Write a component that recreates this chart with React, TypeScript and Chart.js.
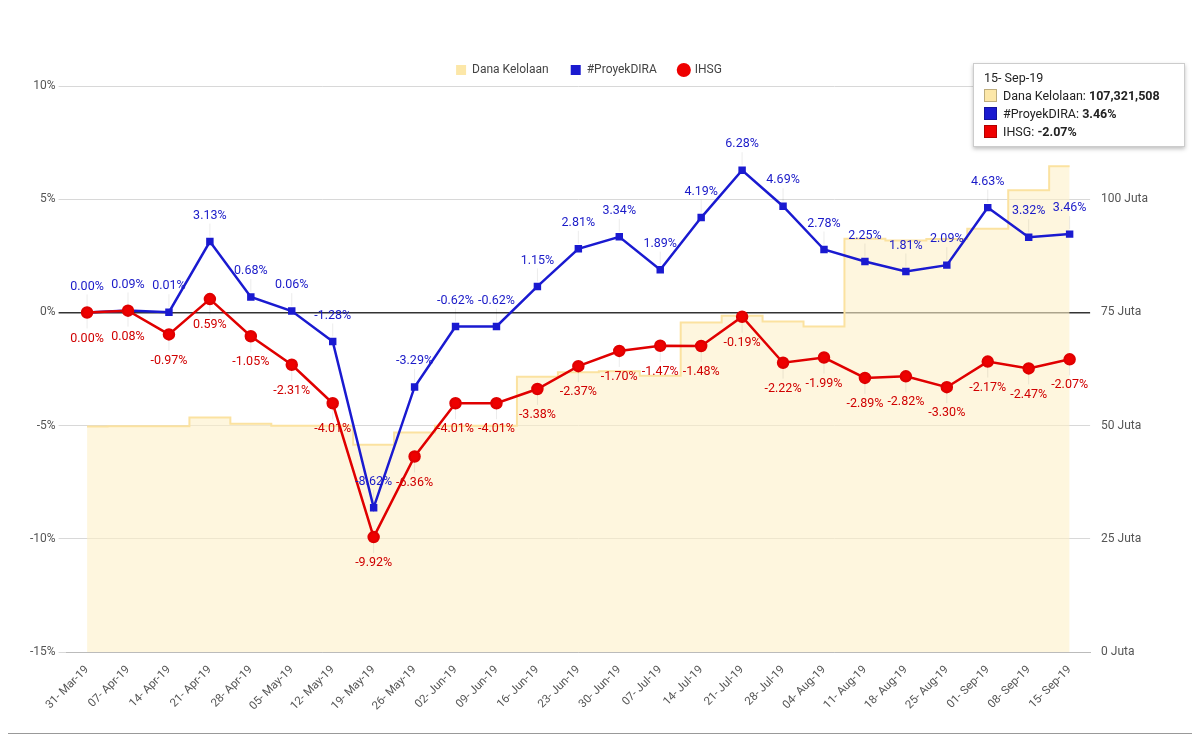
import React, { useEffect, useRef } from "react";
import { Chart, registerables } from "chart.js";
Chart.register(...registerables);

const dates = ["31- Mar-19","07- Apr-19","14- Apr-19","21- Apr-19","28- Apr-19","05- May-19","12- May-19","19- May-19","26- May-19","02- Jun-19","09- Jun-19","16- Jun-19","23- Jun-19","30- Jun-19","07- Jul-19","14- Jul-19","21- Jul-19","28- Jul-19","04- Aug-19","11- Aug-19","18- Aug-19","25- Aug-19","01- Sep-19","08- Sep-19","15- Sep-19"];
const dira = [0.00,0.09,0.01,3.13,0.68,0.06,-1.28,-8.62,-3.29,-0.62,-0.62,1.15,2.81,3.34,1.89,4.19,6.28,4.69,2.78,2.25,1.81,2.09,4.63,3.32,3.46];
const ihsg = [0.00,0.08,-0.97,0.59,-1.05,-2.31,-4.01,-9.92,-6.36,-4.01,-4.01,-3.38,-2.37,-1.70,-1.47,-1.48,-0.19,-2.22,-1.99,-2.89,-2.82,-3.30,-2.17,-2.47,-2.07];
const dana = [49.8,49.9,49.9,51.8,50.4,50.0,50.0,45.8,48.5,50.0,50.0,60.8,61.8,62.0,61.0,72.8,74.3,73.0,71.9,91.3,90.9,91.2,93.5,102.0,107.3];
const leftTicks = [10,5,0,-5,-10,-15];
const rightTicks = [0,25,50,75,100];

const FONT = "Roboto";

const labelPlugin = {
  id: "pointLabels",
  afterDatasetsDraw(chart: any) {
    const ctx = chart.ctx;
    ctx.save();
    ctx.font = `12.5px ${FONT}`;
    ctx.textAlign = "center";
    [1, 2].forEach((di) => {
      const meta = chart.getDatasetMeta(di);
      const ds = chart.data.datasets[di];
      const above = di === 1;
      meta.data.forEach((pt: any, i: number) => {
        const v = ds.data[i] as number;
        const ly = above ? pt.y - 22 : pt.y + 22;
        ctx.strokeStyle = "rgba(0,0,0,0.08)";
        ctx.lineWidth = 1;
        ctx.beginPath();
        ctx.moveTo(pt.x, pt.y + (above ? -5 : 5));
        ctx.lineTo(pt.x, ly + (above ? 4 : -6));
        ctx.stroke();
        ctx.fillStyle = above ? "#1a1ac8" : "#d00000";
        ctx.textBaseline = "middle";
        ctx.fillText(v.toFixed(2) + "%", pt.x, above ? ly - 4 : ly + 4);
      });
    });
    ctx.restore();
  },
};

export default function App() {
  const ref = useRef<HTMLCanvasElement>(null);
  useEffect(() => {
    const chart = new Chart(ref.current!, {
      type: "line",
      data: {
        labels: dates,
        datasets: [
          {
            label: "Dana Kelolaan",
            data: dana,
            yAxisID: "y1",
            stepped: "middle",
            fill: "origin",
            backgroundColor: "rgba(253,240,200,0.6)",
            borderColor: "#fbe2a0",
            borderWidth: 2,
            pointRadius: 0,
            order: 3,
          },
          {
            label: "#ProyekDIRA",
            data: dira,
            yAxisID: "y",
            borderColor: "#1a1ad0",
            backgroundColor: "#1a1ad0",
            borderWidth: 2.5,
            pointStyle: "rect",
            pointRadius: 3.5,
            order: 2,
          },
          {
            label: "IHSG",
            data: ihsg,
            yAxisID: "y",
            borderColor: "#e00000",
            backgroundColor: "#ee0000",
            borderWidth: 2.5,
            pointStyle: "circle",
            pointRadius: 5,
            order: 1,
          },
        ],
      },
      options: {
        animation: false,
        responsive: false,
        layout: { padding: { top: 31, right: 26, left: 20, bottom: 15 } },
        plugins: {
          tooltip: { enabled: false },
          legend: {
            labels: {
              usePointStyle: true,
              boxWidth: 10,
              boxHeight: 10,
              padding: 22,
              color: "#444",
              font: { family: FONT, size: 12 },
              generateLabels: (c: any) =>
                c.data.datasets.map((d: any, i: number) => ({
                  text: d.label,
                  fillStyle: i === 0 ? "#fce7a8" : i === 1 ? "#1a1ad0" : "#ee0000",
                  strokeStyle: i === 0 ? "#fce7a8" : i === 1 ? "#1a1ad0" : "#ee0000",
                  pointStyle: i === 2 ? "circle" : "rect",
                  fontColor: "#444",
                  datasetIndex: i,
                  lineWidth: 0,
                })),
            },
          },
        },
        scales: {
          x: {
            offset: true,
            grid: { display: false },
            border: { color: "#bbb" },
            ticks: { maxRotation: 45, minRotation: 45, color: "#555", font: { family: FONT, size: 11.5 }, autoSkip: false },
          },
          y: {
            min: -15,
            max: 10,
            afterBuildTicks: (s: any) => { s.ticks = leftTicks.map((v) => ({ value: v })); },
            border: { display: false },
            grid: {
              color: (c: any) => (c.tick && c.tick.value === 0 ? "#333" : "#d8d8d8"),
              lineWidth: (c: any) => (c.tick && c.tick.value === 0 ? 1.5 : 1),
            },
            ticks: { color: "#555", font: { family: FONT, size: 12 }, callback: (v: any) => v + "%" },
          },
          y1: {
            position: "right",
            min: 0,
            max: 125,
            afterBuildTicks: (s: any) => { s.ticks = rightTicks.map((v) => ({ value: v })); },
            border: { display: false },
            grid: { display: false },
            ticks: { color: "#555", font: { family: FONT, size: 12 }, callback: (v: any) => v + " Juta" },
          },
        },
      },
      plugins: [labelPlugin],
    });
    return () => chart.destroy();
  }, []);

  const row = (color: string, name: string, val: string) => (
    <div style={{ display: "flex", alignItems: "center", marginTop: 3 }}>
      <span style={{ display: "inline-block", width: 13, height: 13, background: color, marginRight: 6, border: "1px solid rgba(0,0,0,0.25)", boxSizing: "border-box" }} />
      <span>{name}: <b>{val}</b></span>
    </div>
  );

  return (
    <div style={{ position: "relative", width: 1186, height: 726, border: "1px solid #999", marginLeft: -2, marginTop: -2, fontFamily: FONT }}>
      <canvas ref={ref} width={1170} height={720} style={{ position: "absolute", left: 0, top: 4 }} />
      <div style={{ position: "absolute", left: 966, top: 56, width: 190, padding: "6px 10px 7px", background: "#fff", border: "1px solid #ccc", boxShadow: "0 2px 4px rgba(0,0,0,0.25)", fontSize: 12.5, color: "#222" }}>
        <div>15- Sep-19</div>
        {row("#fce7a8", "Dana Kelolaan", "107,321,508")}
        {row("#1a1ad0", "#ProyekDIRA", "3.46%")}
        {row("#ee0000", "IHSG", "-2.07%")}
      </div>
    </div>
  );
}
